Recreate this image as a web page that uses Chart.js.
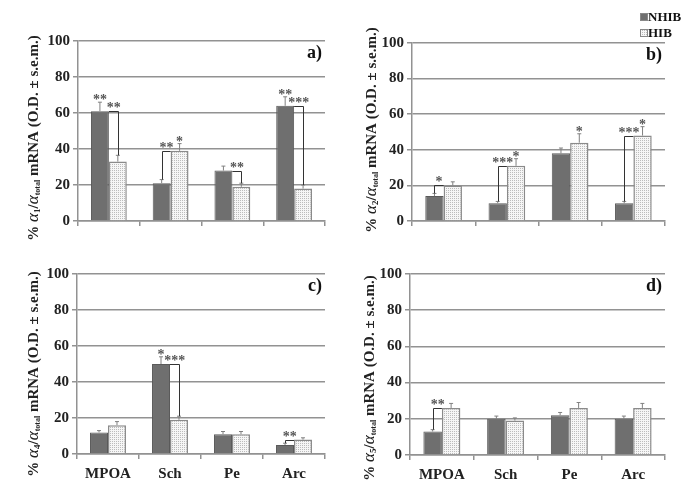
<!DOCTYPE html>
<html>
<head>
<meta charset="utf-8">
<script src="https://cdn.jsdelivr.net/npm/chart.js@4"></script>
<style>
  body { margin: 0; background: #fff; }
  #wrap { position: relative; width: 685px; height: 499px; overflow: hidden; }
  canvas { position: absolute; }
</style>
</head>
<body>
<div id="wrap">
  <canvas id="chartA" width="342" height="250" style="left:0px;top:0px"></canvas>
  <canvas id="chartB" width="342" height="250" style="left:340px;top:0px"></canvas>
  <canvas id="chartC" width="342" height="266" style="left:0px;top:233px"></canvas>
  <canvas id="chartD" width="342" height="266" style="left:340px;top:233px"></canvas>
</div>
<script>
// regions
const categories = ['MPOA', 'Sch', 'Pe', 'Arc'];
const seriesNames = ['NHIB', 'HIB'];
const yTicks = [0, 20, 40, 60, 80, 100];

// a) alpha1
const a1Nhib = [61, 21, 28, 64];
const a1NhibErr = [5, 2, 2.5, 5];
const a1Hib = [33, 39, 19, 18];
const a1HibErr = [3.5, 4, 2, 2];
const a1Stars = [[0, 0, '**'], [1, 1, '*'], [3, 0, '**']];
const a1Brackets = [[0, '**'], [1, '**'], [2, '**'], [3, '***']];

// b) alpha2
const a2Nhib = [14, 10, 38, 10];
const a2NhibErr = [1.5, 1, 3, 1];
const a2Hib = [20, 31, 44, 48];
const a2HibErr = [2, 4, 5, 5];
const a2Stars = [[1, 1, '*'], [2, 1, '*'], [3, 1, '*']];
const a2Brackets = [[0, '*'], [1, '***'], [3, '***']];

// c) alpha4
const a4Nhib = [12, 50, 11, 5];
const a4NhibErr = [1, 4, 1.5, 1];
const a4Hib = [16, 19, 11, 8];
const a4HibErr = [2, 2, 1.5, 1];
const a4Stars = [[1, 0, '*']];
const a4Brackets = [[1, '***'], [3, '**']];

// d) alpha5
const a5Nhib = [13, 20, 22, 20];
const a5NhibErr = [1, 1.5, 1.5, 1.5];
const a5Hib = [26, 19, 26, 26];
const a5HibErr = [2.5, 1.5, 3, 2.5];
const a5Stars = [];
const a5Brackets = [[0, '**']];

const SERIF = '"Liberation Serif", "Times New Roman", serif';
const GRID = '#929292';
const DARK = '#6f6f6f';

// dotted fill for HIB bars
function dotPattern() {
  var c = document.createElement('canvas');
  c.width = 2; c.height = 2;
  var g = c.getContext('2d');
  g.fillStyle = '#f6f6f6';
  g.fillRect(0, 0, 2, 2);
  g.fillStyle = '#bcbcbc';
  g.fillRect(0, 0, 1, 1);
  return g.createPattern(c, 'repeat');
}
const hibFill = dotPattern();

function drawYTitle(ctx, cx, cy, sub) {
  var parts = [
    ['% ', 'bold 15px ' + SERIF, 0],
    ['α', 'italic 17px ' + SERIF, 0],
    [sub, 'bold 9px ' + SERIF, 4],
    ['/', 'bold 15px ' + SERIF, 0],
    ['α', 'italic 17px ' + SERIF, 0],
    ['total', 'bold 8px ' + SERIF, 4],
    [' mRNA (O.D. ± s.e.m.)', 'bold 15px ' + SERIF, 0]
  ];
  var total = 0;
  parts.forEach(function (p) { ctx.font = p[1]; total += ctx.measureText(p[0]).width; });
  ctx.save();
  ctx.translate(cx, cy);
  ctx.rotate(-Math.PI / 2);
  ctx.fillStyle = '#222';
  ctx.textBaseline = 'middle';
  ctx.textAlign = 'left';
  var x = -total / 2;
  parts.forEach(function (p) {
    ctx.font = p[1];
    ctx.fillText(p[0], x, p[2]);
    x += ctx.measureText(p[0]).width;
  });
  ctx.restore();
}

const extras = {
  id: 'extras',
  afterDatasetsDraw(chart, args, o) {
    var ctx = chart.ctx;
    var y = chart.scales.y;
    var m0 = chart.getDatasetMeta(0).data;
    var m1 = chart.getDatasetMeta(1).data;
    var vals = [chart.data.datasets[0].data, chart.data.datasets[1].data];
    var errs = [o.errs[0], o.errs[1]];
    ctx.save();
    // error bars (upper only)
    ctx.strokeStyle = '#808080';
    ctx.lineWidth = 1;
    [m0, m1].forEach(function (meta, s) {
      meta.forEach(function (el, i) {
        var top = y.getPixelForValue(vals[s][i] + errs[s][i]);
        ctx.beginPath();
        ctx.moveTo(el.x, el.y);
        ctx.lineTo(el.x, top);
        ctx.moveTo(el.x - 2, top);
        ctx.lineTo(el.x + 2, top);
        ctx.stroke();
      });
    });
    ctx.fillStyle = '#555';
    ctx.font = 'bold 14px ' + SERIF;
    ctx.textAlign = 'center';
    ctx.textBaseline = 'alphabetic';
    // stars above a single bar
    o.stars.forEach(function (st) {
      var el = (st[1] == 0 ? m0 : m1)[st[0]];
      var top = y.getPixelForValue(vals[st[1]][st[0]] + errs[st[1]][st[0]]);
      ctx.fillText(st[2], el.x, top + 2);
    });
    // comparison brackets
    ctx.strokeStyle = '#333';
    o.brackets.forEach(function (br) {
      var i = br[0];
      var lo = vals[0][i] < vals[1][i] ? 0 : 1;
      var hi = 1 - lo;
      var loEl = (lo == 0 ? m0 : m1)[i];
      var mid = m0[i].x + m0[i].width / 2;
      var hy = Math.round(y.getPixelForValue(vals[hi][i])) + 0.5;
      var ly = y.getPixelForValue(vals[lo][i] + errs[lo][i]);
      var lx = Math.round(loEl.x) + 0.5;
      ctx.beginPath();
      ctx.moveTo(mid, hy);
      ctx.lineTo(lx, hy);
      ctx.lineTo(lx, ly);
      ctx.stroke();
      ctx.fillText(br[1], (lx + mid) / 2, hy);
    });
    ctx.restore();
  },
  afterDraw(chart, args, o) {
    var ctx = chart.ctx;
    var area = chart.chartArea;
    drawYTitle(ctx, o.titleX, o.titleY, o.sub);
    ctx.save();
    ctx.fillStyle = '#111';
    ctx.font = 'bold 18px ' + SERIF;
    ctx.textAlign = 'right';
    ctx.textBaseline = 'middle';
    ctx.fillText(o.tag, area.right - 3, area.top + 12);
    if (o.legend) {
      ctx.font = 'bold 13px ' + SERIF;
      ctx.textAlign = 'left';
      ctx.lineWidth = 1;
      seriesNames.forEach(function (name, k) {
        var ly = 13 + k * 16;
        ctx.fillStyle = k == 0 ? DARK : hibFill;
        ctx.fillRect(300, ly, 8, 8);
        ctx.strokeStyle = '#888';
        ctx.strokeRect(300.5, ly + 0.5, 7, 7);
        ctx.fillStyle = '#111';
        ctx.fillText(name, 308, ly + 5);
      });
    }
    ctx.restore();
  }
};

function makeChart(id, nhib, nhibErr, hib, hibErr, stars, brackets, cfg) {
  return new Chart(document.getElementById(id), {
    type: 'bar',
    data: {
      labels: categories,
      datasets: [{
        label: seriesNames[0],
        data: nhib,
        backgroundColor: DARK,
        borderColor: '#5a5a5a',
        borderWidth: 1
      }, {
        label: seriesNames[1],
        data: hib,
        backgroundColor: hibFill,
        borderColor: '#8a8a8a',
        borderWidth: 1.5
      }]
    },
    options: {
      responsive: false,
      animation: false,
      categoryPercentage: 0.58,
      barPercentage: 1,
      layout: { padding: { left: 0, right: cfg.right, top: cfg.top, bottom: 0 } },
      plugins: {
        legend: { display: false },
        tooltip: { enabled: false },
        extras: {
          errs: [nhibErr, hibErr], stars: stars, brackets: brackets,
          sub: cfg.sub, tag: cfg.tag, titleX: cfg.titleX, titleY: cfg.titleY,
          legend: cfg.legend
        }
      },
      scales: {
        x: {
          afterFit: function (s) { s.height = cfg.xh; },
          grid: { drawOnChartArea: false, tickLength: 5, color: GRID, lineWidth: 1.5 },
          border: { color: GRID, width: 1.5 },
          ticks: {
            display: cfg.showX,
            color: '#222',
            padding: 6,
            font: { family: SERIF, size: 15, weight: 'bold' }
          }
        },
        y: {
          min: 0,
          max: 100,
          afterFit: function (s) { s.width = cfg.yw; },
          afterBuildTicks: function (s) { s.ticks = yTicks.map(function (v) { return { value: v }; }); },
          grid: { color: GRID, lineWidth: 1.5, tickLength: 5 },
          border: { color: GRID, width: 1.5 },
          ticks: {
            color: '#222',
            padding: 3,
            font: { family: SERIF, size: 15, weight: 'bold' }
          }
        }
      }
    },
    plugins: [extras]
  });
}

makeChart('chartA', a1Nhib, a1NhibErr, a1Hib, a1HibErr, a1Stars, a1Brackets,
  { right: 17, top: 41, xh: 29, yw: 78, showX: false, sub: '1', tag: 'a)', titleX: 34, titleY: 138 });
makeChart('chartB', a2Nhib, a2NhibErr, a2Hib, a2HibErr, a2Stars, a2Brackets,
  { right: 17, top: 43, xh: 29, yw: 72, showX: false, sub: '2', tag: 'b)', titleX: 32, titleY: 130, legend: true });
makeChart('chartC', a4Nhib, a4NhibErr, a4Hib, a4HibErr, a4Stars, a4Brackets,
  { right: 17, top: 41, xh: 45, yw: 77, showX: true, sub: '4', tag: 'c)', titleX: 34, titleY: 141 });
makeChart('chartD', a5Nhib, a5NhibErr, a5Hib, a5HibErr, a5Stars, a5Brackets,
  { right: 17, top: 41, xh: 44, yw: 70, showX: true, sub: '5', tag: 'd)', titleX: 30, titleY: 145 });
</script>
</body>
</html>
